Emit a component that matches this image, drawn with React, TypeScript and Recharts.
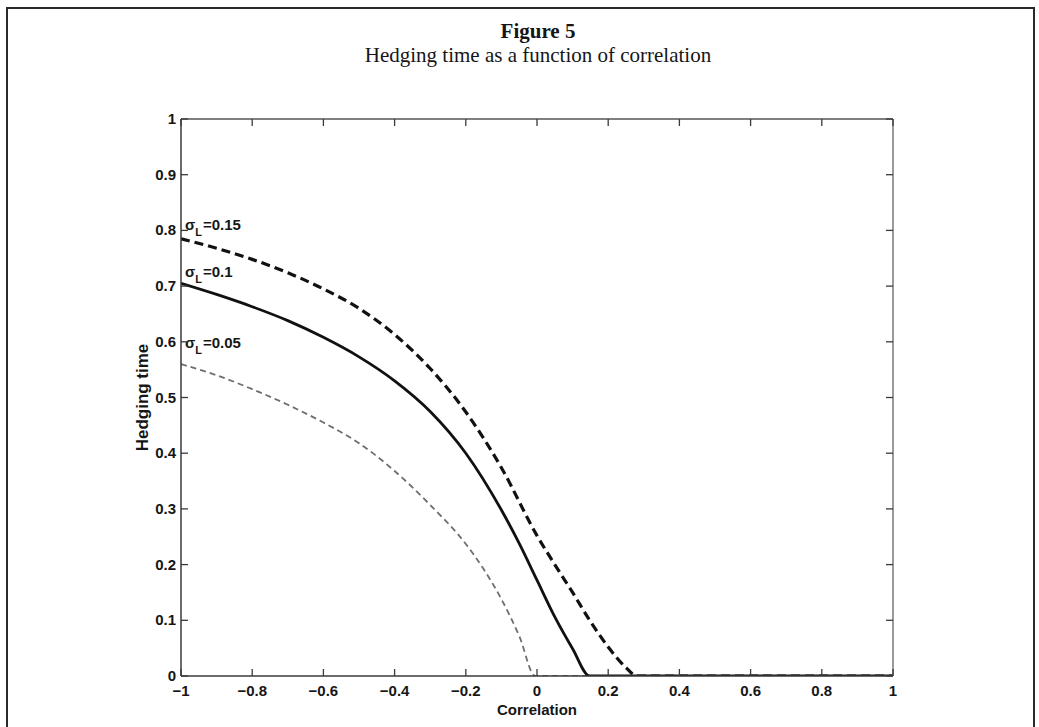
import React from 'react';
import { LineChart, Line, XAxis, YAxis, ReferenceDot, Label } from 'recharts';

// ---- data ----
const xTicks = [-1, -0.8, -0.6, -0.4, -0.2, 0, 0.2, 0.4, 0.6, 0.8, 1];
const yTicks = [0, 0.1, 0.2, 0.3, 0.4, 0.5, 0.6, 0.7, 0.8, 0.9, 1];

// sigma_L = 0.15 (thick dashed)
const xSig15 = [-1, -0.9, -0.8, -0.7, -0.6, -0.5, -0.4, -0.3, -0.2, -0.1, 0, 0.05, 0.1, 0.15, 0.2, 0.25, 0.28, 0.5, 1];
const ySig15 = [0.785, 0.768, 0.748, 0.724, 0.695, 0.66, 0.613, 0.552, 0.474, 0.374, 0.252, 0.2, 0.15, 0.098, 0.052, 0.015, 0, 0, 0];

// sigma_L = 0.1 (solid)
const xSig10 = [-1, -0.9, -0.8, -0.7, -0.6, -0.5, -0.4, -0.3, -0.2, -0.1, -0.05, 0, 0.05, 0.1, 0.148, 0.3, 0.6, 1];
const ySig10 = [0.705, 0.685, 0.663, 0.638, 0.608, 0.573, 0.53, 0.475, 0.4, 0.298, 0.238, 0.172, 0.106, 0.049, 0, 0, 0, 0];

// sigma_L = 0.05 (thin grey dashed)
const xSig05 = [-1, -0.9, -0.8, -0.7, -0.6, -0.5, -0.4, -0.3, -0.2, -0.15, -0.1, -0.05, -0.005, 0.2, 0.5, 1];
const ySig05 = [0.56, 0.54, 0.515, 0.487, 0.455, 0.418, 0.368, 0.307, 0.237, 0.192, 0.138, 0.072, 0, 0, 0, 0];

// curve annotations: label text and the y value where the label sits (at x = -1)
const sigmaLabels = ['0.15', '0.1', '0.05'];
const sigmaLabelY = [0.81, 0.725, 0.597];

const zip = (xs: number[], ys: number[]) => xs.map((x, i) => ({ x, y: ys[i] }));
const d15 = zip(xSig15, ySig15);
const d10 = zip(xSig10, ySig10);
const d05 = zip(xSig05, ySig05);

const SANS = '"Liberation Sans", Arial, Helvetica, sans-serif';
const SERIF = '"Liberation Serif", "Times New Roman", serif';
const TICK = 7;
const AX = '#3a3a3a';
const TXT = '#161616';
const FS = 15;

const fmt = (v: number) => {
  const s = String(Math.round(v * 10) / 10);
  return s.replace('-', '\u2212');
};

const BottomTick = (p: any) => (
  <g>
    <line x1={p.x} x2={p.x} y1={p.y} y2={p.y - TICK} stroke={AX} strokeWidth={1.3} />
    <text x={p.x} y={p.y + 20} textAnchor="middle" fontFamily={SANS} fontWeight="bold" fontSize={FS} fill={TXT}>
      {fmt(p.payload.value)}
    </text>
  </g>
);
const TopTick = (p: any) => (
  <line x1={p.x} x2={p.x} y1={p.y} y2={p.y + TICK} stroke={AX} strokeWidth={1.3} />
);
const LeftTick = (p: any) => (
  <g>
    <line x1={p.x} x2={p.x + TICK} y1={p.y} y2={p.y} stroke={AX} strokeWidth={1.3} />
    <text x={p.x - 5} y={p.y + 5} textAnchor="end" fontFamily={SANS} fontWeight="bold" fontSize={FS} fill={TXT}>
      {fmt(p.payload.value)}
    </text>
  </g>
);
const RightTick = (p: any) => (
  <line x1={p.x} x2={p.x - TICK} y1={p.y} y2={p.y} stroke={AX} strokeWidth={1.3} />
);

const SigmaLabel = (p: any) => {
  const vb = p.viewBox || {};
  const x = (vb.x ?? 0) + (vb.width ?? 0) / 2;
  const y = (vb.y ?? 0) + (vb.height ?? 0) / 2;
  return (
    <text x={x + 4} y={y + 5} fontFamily={SANS} fontWeight="bold" fontSize={FS} fill={TXT}>
      <tspan>σ</tspan>
      <tspan fontSize={11} dy={6}>L</tspan>
      <tspan dy={-6} dx={1}>={p.text}</tspan>
    </text>
  );
};

export default function App() {
  return (
    <div style={{ position: 'absolute', left: 0, top: 0, width: 1039, height: 727, overflow: 'hidden', background: '#fff' }}>
      <div
        style={{
          position: 'absolute',
          left: 6,
          top: 7,
          width: 1029,
          height: 760,
          border: '2px solid #2a2a2a',
          boxSizing: 'border-box',
        }}
      />
      <div style={{ position: 'absolute', left: 138, width: 800, top: 21, textAlign: 'center', fontFamily: SERIF, fontWeight: 'bold', fontSize: 21, lineHeight: '21px', color: TXT }}>
        Figure 5
      </div>
      <div style={{ position: 'absolute', left: 138, width: 800, top: 45, textAlign: 'center', fontFamily: SERIF, fontSize: 21, lineHeight: '21px', color: TXT }}>
        Hedging time as a function of correlation
      </div>
      <div style={{ position: 'absolute', left: 0, top: 0 }}>
        <LineChart width={1039} height={727} margin={{ top: 118, right: 145, bottom: 6, left: 121 }}>
          <XAxis
            xAxisId="b"
            type="number"
            dataKey="x"
            domain={[-1, 1]}
            ticks={xTicks}
            allowDataOverflow
            height={45}
            tickSize={0}
            tickMargin={0}
            tickLine={false}
            tick={BottomTick}
            axisLine={{ stroke: AX, strokeWidth: 1.5 }}
            interval={0}
          >
            <Label value="Correlation" position="insideBottom" offset={6} fontFamily={SANS} fontWeight="bold" fontSize={FS} fill={TXT} />
          </XAxis>
          <XAxis
            xAxisId="t"
            orientation="top"
            type="number"
            dataKey="x"
            domain={[-1, 1]}
            ticks={xTicks}
            allowDataOverflow
            height={1}
            tickSize={0}
            tickMargin={0}
            tickLine={false}
            tick={TopTick}
            axisLine={{ stroke: '#555', strokeWidth: 1.5 }}
            interval={0}
          />
          <YAxis
            yAxisId="l"
            type="number"
            domain={[0, 1]}
            ticks={yTicks}
            allowDataOverflow
            width={60}
            tickSize={0}
            tickMargin={0}
            tickLine={false}
            tick={LeftTick}
            axisLine={{ stroke: AX, strokeWidth: 1.5 }}
            interval={0}
          >
            <Label
              value="Hedging time"
              angle={-90}
              position="center"
              dx={-9}
              fontFamily={SANS}
              fontWeight="bold"
              fontSize={17}
              fill={TXT}
            />
          </YAxis>
          <YAxis
            yAxisId="r"
            orientation="right"
            type="number"
            domain={[0, 1]}
            ticks={yTicks}
            allowDataOverflow
            width={1}
            tickSize={0}
            tickMargin={0}
            tickLine={false}
            tick={RightTick}
            axisLine={{ stroke: '#777', strokeWidth: 1.5 }}
            interval={0}
          />
          <Line
            xAxisId="b"
            yAxisId="l"
            data={d05}
            dataKey="y"
            type="monotone"
            stroke="#6e6e6e"
            strokeWidth={1.8}
            strokeDasharray="6 4"
            dot={false}
            isAnimationActive={false}
          />
          <Line
            xAxisId="b"
            yAxisId="l"
            data={d10}
            dataKey="y"
            type="monotone"
            stroke="#111"
            strokeWidth={2.8}
            dot={false}
            isAnimationActive={false}
          />
          <Line
            xAxisId="b"
            yAxisId="l"
            data={d15}
            dataKey="y"
            type="monotone"
            stroke="#111"
            strokeWidth={3.2}
            strokeDasharray="9 5"
            dot={false}
            isAnimationActive={false}
          />
          {sigmaLabels.map((t, i) => (
            <ReferenceDot
              key={t}
              xAxisId="b"
              yAxisId="l"
              x={-1}
              y={sigmaLabelY[i]}
              r={0}
              fill="none"
              stroke="none"
              label={<SigmaLabel text={t} />}
            />
          ))}
        </LineChart>
      </div>
    </div>
  );
}
